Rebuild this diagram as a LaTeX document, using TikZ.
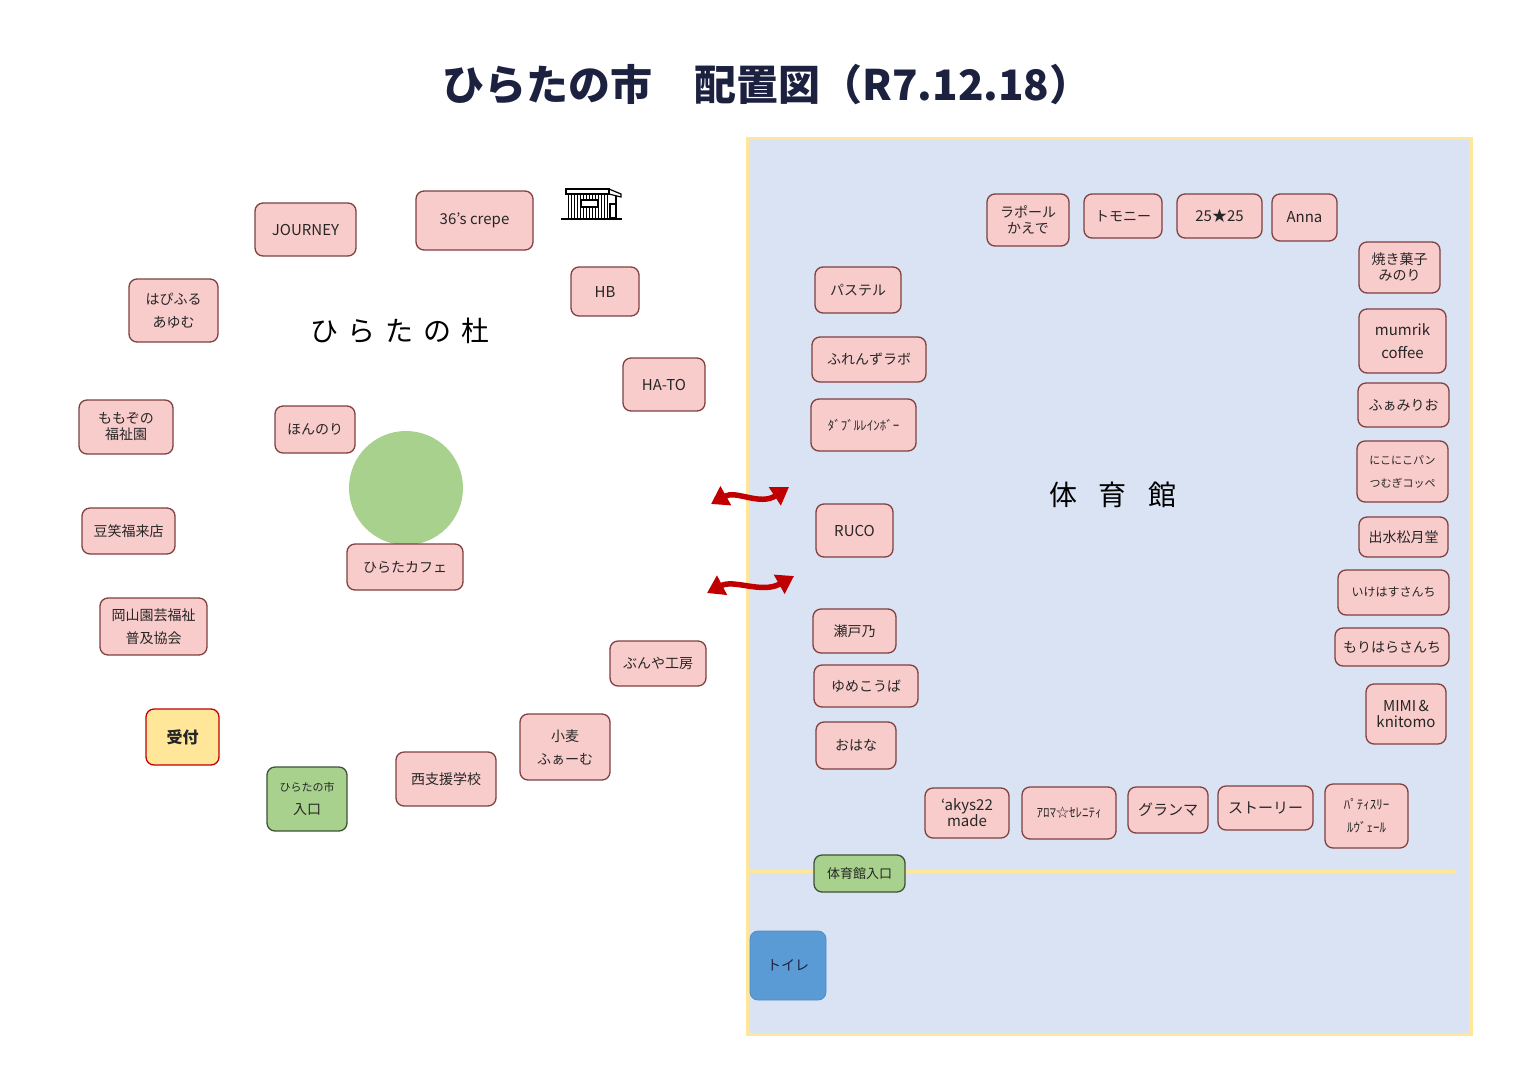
\documentclass[tikz,border=0pt]{standalone}
\usepackage{fontspec}
\setmainfont{Noto Sans CJK JP}
\usetikzlibrary{arrows.meta}
\definecolor{stallfill}{HTML}{F9CCCC}
\definecolor{stallline}{HTML}{7F4040}
\definecolor{gymfill}{HTML}{DAE3F3}
\definecolor{gymline}{HTML}{FFE699}
\definecolor{leaf}{HTML}{A9D18E}
\definecolor{leafline}{HTML}{3D5235}
\definecolor{water}{HTML}{5B9BD5}
\definecolor{navy}{HTML}{1C2140}
\definecolor{inktext}{HTML}{262626}
\definecolor{arrowred}{HTML}{C00000}
\tikzset{
  stall/.style={draw=stallline, fill=stallfill, line width=1.3pt, rounded corners=8pt,
    align=center, inner sep=0pt, text=inktext, font=\fontsize{14}{16}\selectfont},
  entry/.style={stall, draw=leafline, fill=leaf},
  swap/.style={draw=arrowred, line width=5.5pt, {Triangle[width=21pt,length=17pt]}-{Triangle[width=21pt,length=17pt]}},
}
\begin{document}
\begin{tikzpicture}[x=1pt, y=-1pt]
    \useasboundingbox (0,0) rectangle (1527,1080);
    % title
    \node[text=navy, font=\fontsize{42}{45}\selectfont\bfseries] (title) at (767,85) {ひらたの市　配置図（R7.12.18）};
    % gymnasium
    \draw[gymline, fill=gymfill, line width=3pt] (747,138) rectangle (1471,1034);
    \draw[gymline, line width=3pt] (748,871) -- (1455,871);
    \node[font=\fontsize{28}{30}\selectfont] (gym) at (1113,495) {体\hspace{22pt}育\hspace{22pt}館};
    \node[font=\fontsize{28}{30}\selectfont] (mori) at (400,331) {ひ\hspace{10pt}ら\hspace{10pt}た\hspace{10pt}の\hspace{10pt}杜};
    % green circle
    \fill[leaf] (406,488) circle (57);
    % shed icon
    \draw[line width=1.2pt] (566,189) rectangle (609,194);
    \draw[line width=1.2pt] (609,189) -- (621,194) -- (621,197) -- (609,194);
    \foreach \x in {568,571,...,607} \draw[line width=1pt] (\x,194) -- (\x,218);
    \draw[line width=1.2pt] (616,196) -- (616,218);
    \draw[line width=1.2pt, fill=white] (581,200) rectangle (598,207);
    \draw[line width=1.2pt, fill=white] (610,204) rectangle (616,218);
    \draw[line width=1.5pt] (561,219) -- (622,219);
    % stalls outside
    \node[stall, minimum width=101, minimum height=53, font=\fontsize{15}{17}\selectfont] (journey) at (305.5,229.5) {JOURNEY};
    \node[stall, minimum width=117, minimum height=59, font=\fontsize{15}{17}\selectfont] (crepe) at (474.5,220.5) {36’s crepe};
    \node[stall, minimum width=68, minimum height=49, font=\fontsize{15}{17}\selectfont] (hb) at (605,291.5) {HB};
    \node[stall, minimum width=89, minimum height=63] (hapi) at (173.5,310.5) {はぴふる\\[7pt]あゆむ};
    \node[stall, minimum width=82, minimum height=53, font=\fontsize{15}{17}\selectfont] (hato) at (664,384.5) {HA-TO};
    \node[stall, minimum width=94, minimum height=54] (momo) at (126,427) {ももぞの\\福祉園};
    \node[stall, minimum width=80, minimum height=47] (honnori) at (315,429.5) {ほんのり};
    \node[stall, minimum width=93, minimum height=46] (mame) at (128.5,531) {豆笑福来店};
    \node[stall, minimum width=116, minimum height=46] (cafe) at (405,567) {ひらたカフェ};
    \node[stall, minimum width=107, minimum height=57] (engei) at (153.5,626.5) {岡山園芸福祉\\[7pt]普及協会};
    \node[stall, minimum width=96, minimum height=45] (bunya) at (658,663.5) {ぶんや工房};
    \node[stall, draw=arrowred, fill=gymline, minimum width=73, minimum height=56, font=\fontsize{16}{18}\selectfont\bfseries] (uketsuke) at (182.5,737) {受付};
    \node[stall, minimum width=90, minimum height=66] (komugi) at (565,747) {小麦\\[7pt]ふぁーむ};
    \node[stall, minimum width=100, minimum height=54] (nishi) at (446,779) {西支援学校};
    \node[entry, minimum width=80, minimum height=64] (gate) at (307,799) {{\fontsize{11}{13}\selectfont ひらたの市}\\[7pt]入口};
    % stalls in the gym
    \node[stall, minimum width=82, minimum height=52] (rapoll) at (1028,220) {ラポール\\かえで};
    \node[stall, minimum width=78, minimum height=44] (tomony) at (1123,216) {トモニー};
    \node[stall, minimum width=85, minimum height=44, font=\fontsize{15}{17}\selectfont] (star) at (1219.5,216) {25★25};
    \node[stall, minimum width=65, minimum height=47, font=\fontsize{15}{17}\selectfont] (anna) at (1304.5,217.5) {Anna};
    \node[stall, minimum width=81, minimum height=51] (minori) at (1399.5,267.5) {焼き菓子\\みのり};
    \node[stall, minimum width=86, minimum height=46] (pastel) at (858,290) {パステル};
    \node[stall, minimum width=87, minimum height=64, font=\fontsize{15}{17}\selectfont] (mumrik) at (1402.5,341) {mumrik\\[6pt]coffee};
    \node[stall, minimum width=114, minimum height=45] (friends) at (869,359.5) {ふれんずラボ};
    \node[stall, minimum width=91, minimum height=44] (famirio) at (1403.5,405) {ふぁみりお};
    \node[stall, minimum width=105, minimum height=52, font=\fontsize{13}{15}\selectfont] (rainbow) at (863.5,425) {ﾀﾞﾌﾞﾙﾚｲﾝﾎﾞｰ};
    \node[stall, minimum width=91, minimum height=61, font=\fontsize{11}{13}\selectfont] (niko) at (1402.5,471.5) {にこにこパン\\[10pt]つむぎコッペ};
    \node[stall, minimum width=77, minimum height=53, font=\fontsize{15}{17}\selectfont] (ruco) at (854.5,530.5) {RUCO};
    \node[stall, minimum width=89, minimum height=40] (izumi) at (1403.5,537) {出水松月堂};
    \node[stall, minimum width=111, minimum height=45, font=\fontsize{12}{14}\selectfont] (ikehasu) at (1393.5,592.5) {いけはすさんち};
    \node[stall, minimum width=83, minimum height=44] (seto) at (854.5,631) {瀬戸乃};
    \node[stall, minimum width=114, minimum height=38] (morihara) at (1392,647) {もりはらさんち};
    \node[stall, minimum width=104, minimum height=42] (yume) at (866,686) {ゆめこうば};
    \node[stall, minimum width=80, minimum height=60, font=\fontsize{15}{16}\selectfont] (mimi) at (1406,714) {MIMI\,\&\\knitomo};
    \node[stall, minimum width=80, minimum height=47] (ohana) at (856,745.5) {おはな};
    \node[stall, minimum width=84, minimum height=50, font=\fontsize{15}{16}\selectfont] (akys) at (967,813) {‘akys22\\made};
    \node[stall, minimum width=94, minimum height=52, font=\fontsize{13}{15}\selectfont] (aroma) at (1069,813) {ｱﾛﾏ☆ｾﾚﾆﾃｨ};
    \node[stall, minimum width=80, minimum height=46, font=\fontsize{15}{17}\selectfont] (granma) at (1168,810) {グランマ};
    \node[stall, minimum width=95, minimum height=44, font=\fontsize{15}{17}\selectfont] (story) at (1265.5,808) {ストーリー};
    \node[stall, minimum width=83, minimum height=64, font=\fontsize{13}{15}\selectfont] (patis) at (1366.5,816) {ﾊﾟﾃｨｽﾘｰ\\[8pt]ﾙｳﾞｪｰﾙ};
    \node[entry, minimum width=91, minimum height=37, font=\fontsize{13}{15}\selectfont] (gymgate) at (859.5,873.5) {体育館入口};
    \node[stall, draw=water!90!black, fill=water, text=navy, line width=0.8pt, minimum width=76, minimum height=69] (toilet) at (788,965.5) {トイレ};
    % ways in and out of the gym
    \coordinate (w1a) at (711,504); \coordinate (w1b) at (789,487);
    \coordinate (w2a) at (707,593); \coordinate (w2b) at (794,576);
    \draw[swap] (w1a) .. controls (736,490) and (760,506) .. (w1b);
    \draw[swap] (w2a) .. controls (734,579) and (762,594) .. (w2b);
\end{tikzpicture}
\end{document}
